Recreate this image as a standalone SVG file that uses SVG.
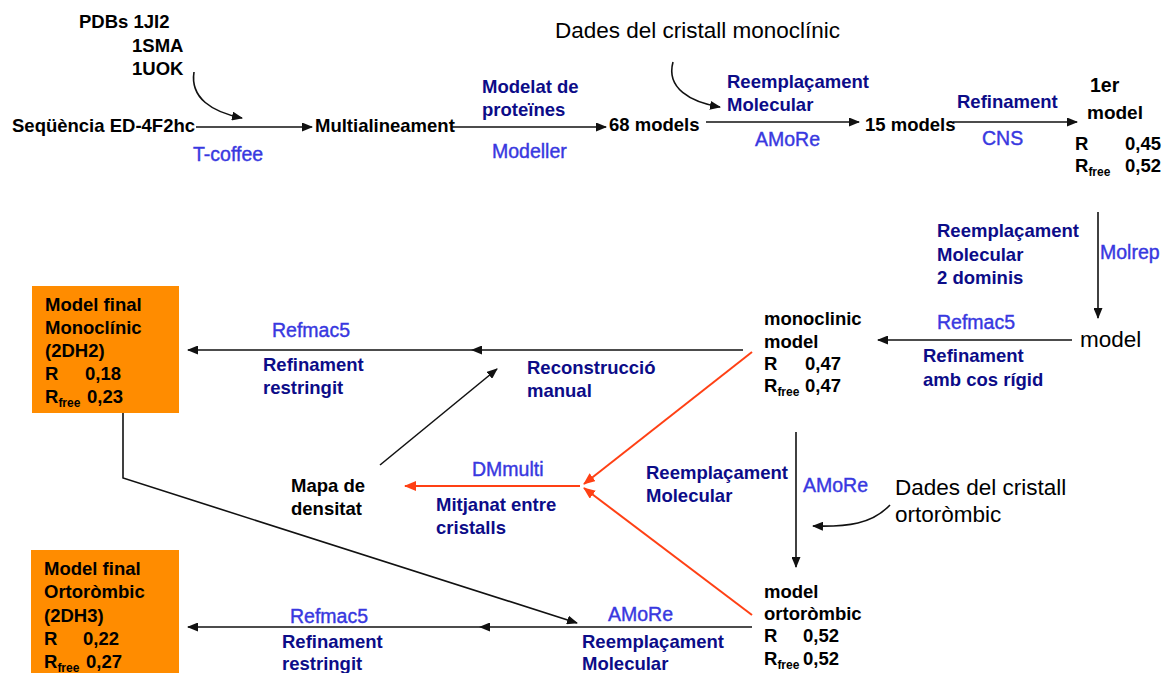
<svg xmlns="http://www.w3.org/2000/svg" width="1163" height="673" viewBox="0 0 1163 673">
<style>
text{font-family:"Liberation Sans",Arial,sans-serif;font-weight:bold;font-size:18.5px;fill:#000}
.n{fill:#0c0c88}
.l{font-weight:normal;fill:#3838e0;stroke:#3838e0;stroke-width:0.4;font-size:19.5px}
.big{font-weight:normal;font-size:22.5px}
.s{font-size:12px}
.k{stroke:#111;stroke-width:1.6;fill:none}
.r{stroke:#ff4014;stroke-width:2;fill:none}
.box{fill:#ff8c00}
</style>
<defs>
<marker id="ak" markerUnits="userSpaceOnUse" markerWidth="11" markerHeight="9" refX="10" refY="4.5" orient="auto"><path d="M0,0 L11,4.5 L0,9 z" fill="#111"/></marker>
<marker id="ar" markerUnits="userSpaceOnUse" markerWidth="12" markerHeight="10" refX="11" refY="5" orient="auto"><path d="M0,0 L12,5 L0,10 z" fill="#ff4014"/></marker>
</defs>
<rect width="1163" height="673" fill="#fff"/>

<g id="connectors">
<path class="k" d="M194,72 C190,98 212,112 242,118" marker-end="url(#ak)"/>
<line class="k" x1="196" y1="127" x2="312" y2="127" marker-end="url(#ak)"/>
<line class="k" x1="452" y1="127" x2="606" y2="127" marker-end="url(#ak)"/>
<path class="k" d="M673,62 C666,88 690,102 720,107" marker-end="url(#ak)"/>
<line class="k" x1="706" y1="122" x2="859" y2="122" marker-end="url(#ak)"/>
<line class="k" x1="953" y1="122" x2="1077" y2="122" marker-end="url(#ak)"/>
<line class="k" x1="1098" y1="212" x2="1098" y2="318" marker-end="url(#ak)"/>
<line class="k" x1="1072" y1="340" x2="878" y2="340" marker-end="url(#ak)"/>
<line class="k" x1="743" y1="350" x2="472" y2="350" marker-end="url(#ak)"/>
<line class="k" x1="472" y1="350" x2="188" y2="350" marker-end="url(#ak)"/>
<line class="k" x1="380" y1="465" x2="497" y2="369" marker-end="url(#ak)"/>
<polyline class="k" points="123,413 123,478 577,623" marker-end="url(#ak)"/>
<line class="r" x1="752" y1="352" x2="584" y2="484" marker-end="url(#ar)"/>
<line class="r" x1="752" y1="615" x2="584" y2="488" marker-end="url(#ar)"/>
<line class="r" x1="580" y1="486" x2="405" y2="486" marker-end="url(#ar)"/>
<line class="k" x1="796" y1="432" x2="796" y2="567" marker-end="url(#ak)"/>
<path class="k" d="M890,505 C872,524 848,527 813,526" marker-end="url(#ak)"/>
<line class="k" x1="752" y1="627" x2="480" y2="627" marker-end="url(#ak)"/>
<line class="k" x1="480" y1="627" x2="188" y2="627" marker-end="url(#ak)"/>
</g>

<g id="labels">
<text class="l" x="193" y="161">T-coffee</text>
<text class="n" x="482" y="93">Modelat de</text>
<text class="n" x="482" y="116">proteïnes</text>
<text class="l" x="492" y="158">Modeller</text>
<text class="n" x="727" y="88">Reemplaçament</text>
<text class="n" x="727" y="111">Molecular</text>
<text class="l" x="755" y="146">AMoRe</text>
<text class="n" x="957" y="108">Refinament</text>
<text class="l" x="982" y="145">CNS</text>
<text class="n" x="937" y="237">Reemplaçament</text>
<text class="n" x="937" y="261">Molecular</text>
<text class="n" x="937" y="284">2 dominis</text>
<text class="l" x="1100" y="259">Molrep</text>
<text class="l" x="937" y="329">Refmac5</text>
<text class="n" x="923" y="362">Refinament</text>
<text class="n" x="923" y="386">amb cos rígid</text>
<text class="l" x="272" y="337">Refmac5</text>
<text class="n" x="263" y="371">Refinament</text>
<text class="n" x="263" y="394">restringit</text>
<text class="n" x="527" y="374">Reconstrucció</text>
<text class="n" x="527" y="397">manual</text>
<text class="l" x="472" y="476">DMmulti</text>
<text class="n" x="436" y="511">Mitjanat entre</text>
<text class="n" x="436" y="534">cristalls</text>
<text class="n" x="646" y="479">Reemplaçament</text>
<text class="n" x="646" y="502">Molecular</text>
<text class="l" x="803" y="492">AMoRe</text>
<text class="l" x="608" y="621">AMoRe</text>
<text class="n" x="582" y="648">Reemplaçament</text>
<text class="n" x="582" y="670">Molecular</text>
<text class="l" x="290" y="623">Refmac5</text>
<text class="n" x="282" y="648">Refinament</text>
<text class="n" x="282" y="670">restringit</text>
</g>

<g id="pdbs">
<text x="79" y="28">PDBs 1JI2</text>
<text x="132" y="52">1SMA</text>
<text x="132" y="75">1UOK</text>
</g>
<g id="seq"><text x="12" y="132">Seqüència ED-4F2hc</text></g>
<g id="multi"><text x="315" y="132">Multialineament</text></g>
<g id="m68"><text x="609" y="131">68 models</text></g>
<g id="dades-mono"><text class="big" x="555" y="38">Dades del cristall monoclínic</text></g>
<g id="m15"><text x="865" y="131">15 models</text></g>
<g id="first-model">
<text x="1090" y="92" style="font-size:19.5px">1er</text>
<text x="1087" y="119" style="font-size:19px">model</text>
<text x="1075" y="150">R</text><text x="1125" y="150">0,45</text>
<text x="1075" y="172">R<tspan class="s" dy="4">free</tspan></text><text x="1125" y="172">0,52</text>
</g>
<g id="model"><text class="big" x="1080" y="347">model</text></g>
<g id="mono-model">
<text x="764" y="325">monoclinic</text>
<text x="764" y="348">model</text>
<text x="764" y="370">R</text><text x="805" y="370">0,47</text>
<text x="764" y="392">R<tspan class="s" dy="4">free</tspan></text><text x="805" y="392">0,47</text>
</g>
<g id="final-mono">
<rect class="box" x="32" y="286" width="147" height="127"/>
<text x="45" y="311">Model final</text>
<text x="45" y="334">Monoclínic</text>
<text x="45" y="357">(2DH2)</text>
<text x="45" y="380">R</text><text x="85" y="380">0,18</text>
<text x="45" y="403">R<tspan class="s" dy="4">free</tspan></text><text x="87" y="403">0,23</text>
</g>
<g id="mapa">
<text x="291" y="492">Mapa de</text>
<text x="291" y="515">densitat</text>
</g>
<g id="dades-orto">
<text class="big" x="895" y="495">Dades del cristall</text>
<text class="big" x="895" y="522">ortoròmbic</text>
</g>
<g id="orto-model">
<text x="764" y="598">model</text>
<text x="764" y="620">ortoròmbic</text>
<text x="764" y="642">R</text><text x="803" y="642">0,52</text>
<text x="764" y="665">R<tspan class="s" dy="4">free</tspan></text><text x="803" y="665">0,52</text>
</g>
<g id="final-orto">
<rect class="box" x="31" y="550" width="148" height="123"/>
<text x="44" y="575">Model final</text>
<text x="44" y="598">Ortoròmbic</text>
<text x="44" y="622">(2DH3)</text>
<text x="44" y="645">R</text><text x="83" y="645">0,22</text>
<text x="44" y="668">R<tspan class="s" dy="4">free</tspan></text><text x="86" y="668">0,27</text>
</g>
</svg>
